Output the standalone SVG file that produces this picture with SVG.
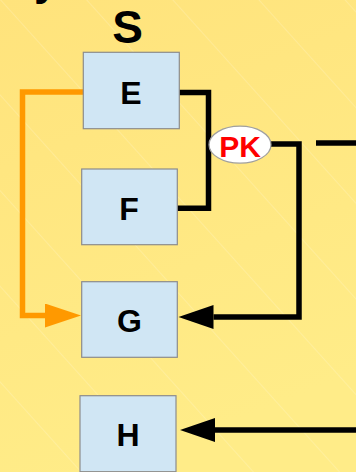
<svg xmlns="http://www.w3.org/2000/svg" width="356" height="472" viewBox="0 0 356 472">
  <defs>
    <linearGradient id="bg" x1="0" y1="0" x2="0.3" y2="1">
      <stop offset="0" stop-color="#FFE37C"/>
      <stop offset="1" stop-color="#FFEC88"/>
    </linearGradient>
    <pattern id="streaks" patternUnits="userSpaceOnUse" width="64" height="64" patternTransform="rotate(-42)">
      <line x1="0" y1="0" x2="0" y2="64" stroke="#FFFFFF" stroke-opacity="0.35" stroke-width="1"/>
    </pattern>
    <marker id="arrowBlack" markerUnits="userSpaceOnUse" markerWidth="36" markerHeight="24" refX="0" refY="12" orient="auto">
      <path d="M0,0 L35,12 L0,24 z" fill="#000000"/>
    </marker>
    <marker id="arrowOrange" markerUnits="userSpaceOnUse" markerWidth="37" markerHeight="24" refX="0" refY="12" orient="auto">
      <path d="M0,0 L36,12 L0,24 z" fill="#FF9900"/>
    </marker>
  </defs>
  <style>
    .box { fill: #D0E6F4; stroke: #8C8C8C; stroke-width: 1.2; }
    .lbl { font-family: "Liberation Sans", Arial, sans-serif; font-weight: bold; font-size: 32px; fill: #000000; text-anchor: middle; }
    .wire { fill: none; stroke: #000000; stroke-width: 5.5; stroke-linejoin: miter; }
    .orange { fill: none; stroke: #FF9900; stroke-width: 5.5; stroke-linejoin: miter; }
    .pk { font-family: "Liberation Sans", Arial, sans-serif; font-weight: bold; font-size: 30px; fill: #FF0000; text-anchor: middle; }
  </style>

  <!-- background -->
  <rect x="0" y="0" width="356" height="472" fill="url(#bg)"/>
  <rect x="0" y="0" width="356" height="472" fill="url(#streaks)"/>

  <!-- title fragments -->
  <text x="34" y="-5" class="lbl" style="font-size:44px;text-anchor:start">y</text>
  <text x="127.5" y="43" class="lbl" style="font-size:46px">S</text>

  <!-- connectors -->
  <g id="connectors">
    <path class="orange" d="M83,92 H22.5 V315.5 H45" marker-end="url(#arrowOrange)"/>
    <path class="wire" d="M179,92.5 H208.5 V208.3 H177"/>
    <path class="wire" d="M271,144 H299 V317 H213.5" marker-end="url(#arrowBlack)"/>
    <path class="wire" d="M316,143 H356"/>
    <path class="wire" d="M356,430 H215" marker-end="url(#arrowBlack)"/>
  </g>

  <g id="node-E">
    <rect class="box" x="83.3" y="52.3" width="96" height="76.4"/>
    <text class="lbl" x="131" y="104.3">E</text>
  </g>
  <g id="node-F">
    <rect class="box" x="81.7" y="169" width="95.6" height="75.7"/>
    <text class="lbl" x="129" y="219.5">F</text>
  </g>
  <g id="node-G">
    <rect class="box" x="81.7" y="281.7" width="95.6" height="75.6"/>
    <text class="lbl" x="129.5" y="331.5">G</text>
  </g>
  <g id="node-H">
    <rect class="box" x="80" y="395.7" width="96" height="76"/>
    <text class="lbl" x="128" y="446">H</text>
  </g>
  <g id="node-PK">
    <ellipse cx="240" cy="144.7" rx="31" ry="18.5" fill="#FFFFFF" stroke="#A0A0A0" stroke-width="1.2"/>
    <text class="pk" x="240" y="156.5">PK</text>
  </g>
</svg>
